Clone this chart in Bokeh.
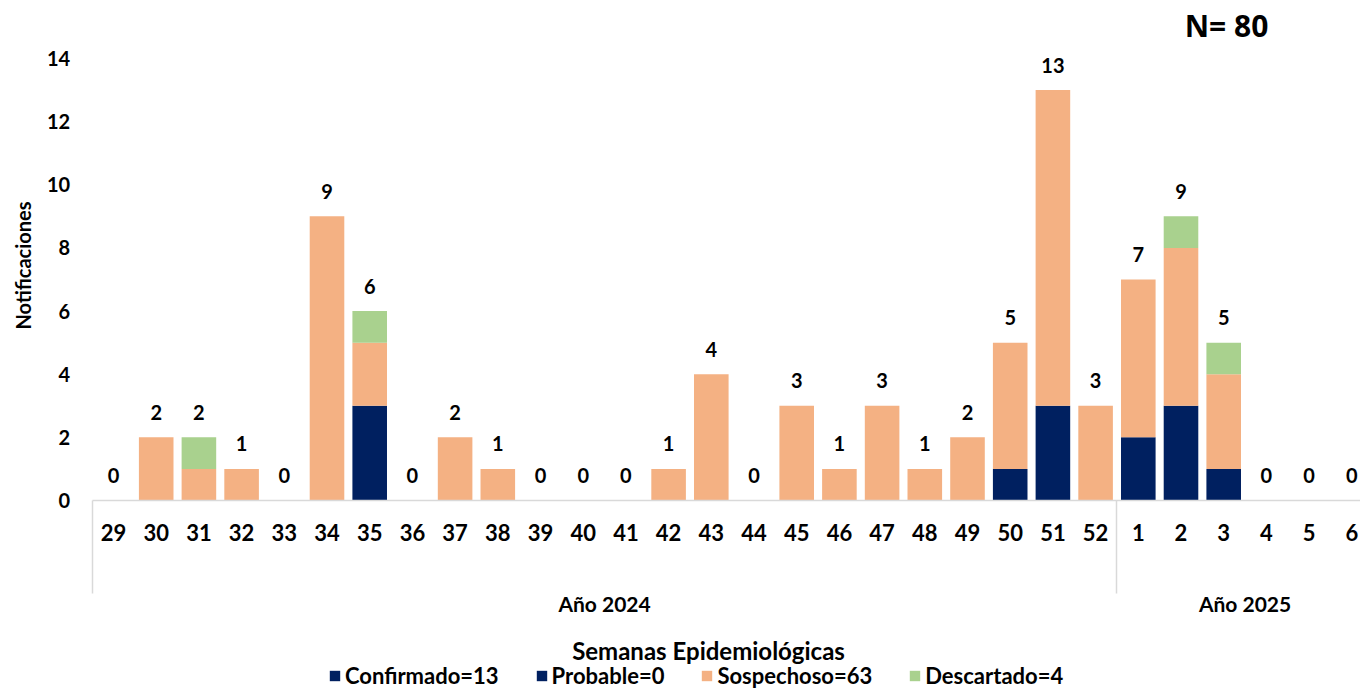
import math
from bokeh.plotting import figure
from bokeh.models import (Range1d, FixedTicker, LinearAxis, Legend, LegendItem,
                          Label, ColumnDataSource)
from bokeh.embed import file_html
from bokeh.resources import INLINE
from bokeh.core.properties import value

weeks = ["29", "30", "31", "32", "33", "34", "35", "36", "37", "38", "39", "40",
         "41", "42", "43", "44", "45", "46", "47", "48", "49", "50", "51", "52",
         "1", "2", "3", "4", "5", "6"]
year_groups = ["Año 2024", "Año 2025"]
year_sizes = [24, 6]
confirmado = [0, 0, 0, 0, 0, 0, 3, 0, 0, 0, 0, 0, 0, 0, 0, 0, 0, 0, 0, 0, 0, 1, 3, 0,
              2, 3, 1, 0, 0, 0]
probable = [0] * 30
sospechoso = [0, 2, 1, 1, 0, 9, 2, 0, 2, 1, 0, 0, 0, 1, 4, 0, 3, 1, 3, 1, 2, 4, 10, 3,
              5, 5, 3, 0, 0, 0]
descartado = [0, 0, 1, 0, 0, 0, 1, 0, 0, 0, 0, 0, 0, 0, 0, 0, 0, 0, 0, 0, 0, 0, 0, 0,
              0, 1, 1, 0, 0, 0]
y_ticks = [0, 2, 4, 6, 8, 10, 12, 14]

COLORS = ["#002060", "#002060", "#F4B183", "#A9D18E"]
FONT = "Lato"

W, H = 1360, 689
# layout: pixel position of category 0 / value 0, and pixels per unit
OX, OY = 113, 500
PX_X = 42.7
PX_Y = 442.0 / 14
x0 = -OX / PX_X
x1 = (W - OX) / PX_X
y0 = -(H - OY) / PX_Y
y1 = OY / PX_Y

idx = list(range(len(weeks)))
totals = [c + p + s + d for c, p, s, d in zip(confirmado, probable, sospechoso, descartado)]
src = ColumnDataSource(dict(x=idx, conf=confirmado, prob=probable, sosp=sospechoso,
                            desc=descartado, total=totals, lab=[str(t) for t in totals]))

p = figure(width=W, height=H, output_backend="svg", toolbar_location=None,
           x_range=Range1d(x0, x1), y_range=Range1d(y0, y1),
           min_border_left=0, min_border_right=0, min_border_top=0, min_border_bottom=0)
p.outline_line_color = None
p.xgrid.visible = False
p.ygrid.visible = False

rs = p.vbar_stack(["conf", "prob", "sosp", "desc"], x="x", width=0.81, color=COLORS,
                  line_color=None, source=src)

p.text(x="x", y="total", text="lab", source=src, text_align="center", text_baseline="middle",
       y_offset=-25, text_font=value(FONT), text_font_style="bold", text_font_size="20px",
       text_color="black")

# y axis, drawn at the left edge of the bar area
ya = p.yaxis[0]
ya.fixed_location = -0.5
ya.ticker = FixedTicker(ticks=y_ticks)
ya.axis_line_color = None
ya.major_tick_line_color = None
ya.minor_tick_line_color = None
ya.major_tick_in = 0
ya.major_tick_out = 0
ya.minor_tick_in = 0
ya.minor_tick_out = 0
ya.major_label_standoff = 22
ya.major_label_text_font = FONT
ya.major_label_text_font_style = "bold"
ya.major_label_text_font_size = "20px"
ya.major_label_text_color = "black"

p.text(x=[(22 - OX) / PX_X], y=[(OY - 265) / PX_Y], text=["Notificaciones"],
       angle=math.pi / 2, text_align="center", text_baseline="middle",
       text_font=value(FONT), text_font_style="bold", text_font_size="20px",
       text_color="black")

# x axis at y = 0: week labels, year separators as minor ticks
bounds = [-0.5]
acc = -0.5
for n in year_sizes[:-1]:
    acc += n
    bounds.append(acc)
xa = p.xaxis[0]
xa.fixed_location = 0
xa.bounds = (-0.5, len(weeks))
xa.ticker = FixedTicker(ticks=idx, minor_ticks=bounds)
xa.major_label_overrides = {i: w for i, w in zip(idx, weeks)}
xa.axis_line_color = "#D9D9D9"
xa.axis_line_width = 1.5
xa.major_tick_line_color = None
xa.major_tick_in = 0
xa.major_tick_out = 0
xa.minor_tick_line_color = "#D9D9D9"
xa.minor_tick_line_width = 1.5
xa.minor_tick_in = 0
xa.minor_tick_out = 93
xa.major_label_standoff = 23 - 93
xa.major_label_text_font = FONT
xa.major_label_text_font_style = "bold"
xa.major_label_text_font_size = "22px"
xa.major_label_text_color = "black"

# year group axis
centers = []
start = 0
for n in year_sizes:
    centers.append(start + (n - 1) / 2.0)
    start += n
ga = LinearAxis(ticker=FixedTicker(ticks=centers, minor_ticks=[]),
                major_label_overrides={c: g for c, g in zip(centers, year_groups)},
                fixed_location=0)
ga.axis_line_color = None
ga.major_tick_line_color = None
ga.major_tick_in = 0
ga.major_tick_out = 0
ga.minor_tick_line_color = None
ga.minor_tick_in = 0
ga.minor_tick_out = 0
ga.major_label_standoff = 90
ga.major_label_text_font = FONT
ga.major_label_text_font_style = "bold"
ga.major_label_text_font_size = "21px"
ga.major_label_text_color = "black"
p.add_layout(ga, "below")

p.text(x=[(708 - OX) / PX_X], y=[(OY - 650) / PX_Y], text=["Semanas Epidemiológicas"],
       text_align="center", text_baseline="middle", text_font=value(FONT),
       text_font_style="bold", text_font_size="24px", text_color="black")

items = [LegendItem(label=f"Confirmado={sum(confirmado)}", renderers=[rs[0]]),
         LegendItem(label=f"Probable={sum(probable)}", renderers=[rs[1]]),
         LegendItem(label=f"Sospechoso={sum(sospechoso)}", renderers=[rs[2]]),
         LegendItem(label=f"Descartado={sum(descartado)}", renderers=[rs[3]])]
leg = Legend(items=items, orientation="horizontal", location=(328, 0),
             border_line_color=None, background_fill_alpha=0,
             label_text_font=FONT, label_text_font_style="bold",
             label_text_font_size="22px", label_text_color="black",
             glyph_width=13, glyph_height=13, label_standoff=4, spacing=36,
             padding=0, margin=0)
p.add_layout(leg)

p.add_layout(Label(x=(1226 - OX) / PX_X, y=(OY - 25) / PX_Y, text="N= 80",
                   text_align="center", text_baseline="middle", text_font="Open Sans",
                   text_font_style="bold", text_font_size="30px", text_color="black"))

open("out.html", "w").write(file_html(p, INLINE))
